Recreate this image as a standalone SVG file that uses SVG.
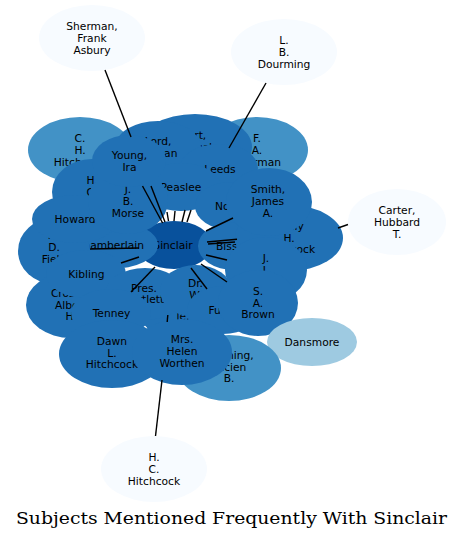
<svg xmlns="http://www.w3.org/2000/svg" width="464" height="538" viewBox="0 0 464 538">
<style>
.t{font-family:"DejaVu Sans",sans-serif;font-size:10.7px;text-anchor:middle;fill:#000}
.c1{fill:#f7fbff}.c4{fill:#4292c6}.c3{fill:#9ecae1}.c6{fill:#2171b5}.c7{fill:#08519c}
.e{stroke:#000;stroke-width:1.4;fill:none}
.title{font-family:"DejaVu Serif",serif;font-size:16px;text-anchor:middle;fill:#000}
</style>
<rect width="464" height="538" fill="#fff"/>
<g id="nodes">
<g id="n-sinclair"><ellipse class="c7" cx="174" cy="245" rx="38" ry="24"/><text class="t" x="173" y="248.5">Sinclair</text></g>
<g id="n-sherman-frank"><ellipse class="c1" cx="92" cy="38" rx="53" ry="33"/><text class="t"><tspan x="92" y="29.5">Sherman,</tspan><tspan x="92" y="41.5">Frank</tspan><tspan x="92" y="53.5">Asbury</tspan></text></g>
<g id="n-dourming"><ellipse class="c1" cx="284" cy="52" rx="53" ry="33"/><text class="t"><tspan x="284" y="43.5">L.</tspan><tspan x="284" y="55.5">B.</tspan><tspan x="284" y="67.5">Dourming</tspan></text></g>
<g id="n-carter"><ellipse class="c1" cx="397" cy="222" rx="49" ry="33"/><text class="t"><tspan x="397" y="213.5">Carter,</tspan><tspan x="397" y="225.5">Hubbard</tspan><tspan x="397" y="237.5">T.</tspan></text></g>
<g id="n-hc-hitchcock"><ellipse class="c1" cx="154" cy="469" rx="53" ry="33"/><text class="t"><tspan x="154" y="460.5">H.</tspan><tspan x="154" y="472.5">C.</tspan><tspan x="154" y="484.5">Hitchcock</tspan></text></g>
<g id="n-ch-hitchcock"><ellipse class="c4" cx="80" cy="150" rx="52" ry="33"/><text class="t"><tspan x="80" y="142">C.</tspan><tspan x="80" y="154">H.</tspan><tspan x="80" y="165.5">Hitchcock</tspan></text></g>
<g id="n-fa-sherman"><ellipse class="c4" cx="257" cy="150" rx="51" ry="33"/><text class="t"><tspan x="257" y="141.5">F.</tspan><tspan x="257" y="153.5">A.</tspan><tspan x="257" y="165.5">Sherman</tspan></text></g>
<g id="n-hart"><ellipse class="c6" cx="195" cy="147" rx="57" ry="33"/><text class="t"><tspan x="193" y="139">Hart,</tspan><tspan x="192" y="151">Samuel</tspan><tspan x="192" y="163">P.</tspan></text></g>
<g id="n-lord"><ellipse class="c6" cx="158" cy="147" rx="43" ry="26"/><text class="t"><tspan x="158" y="145">Lord,</tspan><tspan x="158" y="156.5">Nathan</tspan></text></g>
<g id="n-leeds"><ellipse class="c6" cx="219" cy="168" rx="39" ry="24"/><text class="t" x="220" y="173">Leeds</text></g>
<g id="n-peaslee"><ellipse class="c6" cx="181" cy="187" rx="40" ry="24"/><text class="t" x="181" y="190.7">Peaslee</text></g>
<g id="n-hc"><ellipse class="c6" cx="92" cy="192" rx="40" ry="33"/><text class="t"><tspan x="92" y="184">H.</tspan><tspan x="92" y="195.5">C.</tspan><tspan x="92" y="207.5">Bartlett</tspan></text></g>
<g id="n-chamberlain"><ellipse class="c6" cx="110" cy="245" rx="48" ry="24"/><text class="t" x="110" y="249">Chamberlain</text></g>
<g id="n-field"><ellipse class="c6" cx="54" cy="251" rx="36" ry="33"/><text class="t"><tspan x="54" y="239">M.</tspan><tspan x="54" y="251">D.</tspan><tspan x="54" y="263">Field</tspan></text></g>
<g id="n-howard"><ellipse class="c6" cx="75" cy="219" rx="43" ry="24"/><text class="t" x="75" y="223">Howard</text></g>
<g id="n-morse"><ellipse class="c6" cx="128" cy="201" rx="40" ry="33"/><text class="t"><tspan x="128" y="193">J.</tspan><tspan x="128" y="205">B.</tspan><tspan x="128" y="217">Morse</tspan></text></g>
<g id="n-young"><ellipse class="c6" cx="129" cy="161" rx="37" ry="26"/><text class="t"><tspan x="129.5" y="159">Young,</tspan><tspan x="129.5" y="171">Ira</tspan></text></g>
<g id="n-crosby"><ellipse class="c6" cx="71" cy="305" rx="45" ry="33"/><text class="t"><tspan x="71" y="297">Crosby,</tspan><tspan x="71" y="308.5">Albert</tspan><tspan x="71" y="320">H.</tspan></text></g>
<g id="n-kibling"><ellipse class="c6" cx="86" cy="274" rx="40" ry="24"/><text class="t" x="86.5" y="278">Kibling</text></g>
<g id="n-le"><ellipse class="c6" cx="180" cy="316" rx="38" ry="24"/><text class="t" x="183" y="320">le.</text></g>
<g id="n-bartlett"><ellipse class="c6" cx="145" cy="294" rx="40" ry="26"/><text class="t"><tspan x="144" y="291.7">Pres.</tspan><tspan x="144" y="302.7">Bartlett</tspan></text></g>
<g id="n-tenney"><ellipse class="c6" cx="111" cy="313" rx="40" ry="24"/><text class="t" x="111.5" y="316.7">Tenney</text></g>
<g id="n-dawn"><ellipse class="c6" cx="112" cy="354" rx="53" ry="34"/><text class="t"><tspan x="112" y="345">Dawn</tspan><tspan x="112" y="356.7">L.</tspan><tspan x="112" y="368">Hitchcock</tspan></text></g>
<g id="n-dr-w"><ellipse class="c6" cx="196" cy="291" rx="36" ry="26"/><text class="t"><tspan x="195.5" y="287">Dr.</tspan><tspan x="195.5" y="298.5">W.</tspan></text></g>
<g id="n-fuller"><ellipse class="c6" cx="223" cy="310" rx="36" ry="24"/><text class="t" x="223" y="314">Fuller</text></g>
<g id="n-noyes"><ellipse class="c6" cx="231" cy="206" rx="36" ry="24"/><text class="t" x="231.5" y="210">Noyes</text></g>
<g id="n-bissell"><ellipse class="c6" cx="234" cy="246" rx="36" ry="24"/><text class="t" x="233" y="250">Bissell</text></g>
<g id="n-hitchcock-y"><ellipse class="c6" cx="289" cy="238" rx="54" ry="33"/><text class="t"><tspan x="289" y="230">Emily</tspan><tspan x="289" y="241.7">H.</tspan><tspan x="289" y="252.7">Hitchcock</tspan></text></g>
<g id="n-smith"><ellipse class="c6" cx="269" cy="202" rx="43" ry="34"/><text class="t"><tspan x="268" y="193">Smith,</tspan><tspan x="268" y="205">James</tspan><tspan x="268" y="217">A.</tspan></text></g>
<g id="n-ji"><ellipse class="c6" cx="266" cy="270" rx="41" ry="33"/><text class="t"><tspan x="266" y="261.7">J.</tspan><tspan x="266" y="273.5">I.</tspan><tspan x="266" y="285">Parker</tspan></text></g>
<g id="n-brown"><ellipse class="c6" cx="258" cy="303" rx="40" ry="33"/><text class="t"><tspan x="258" y="295">S.</tspan><tspan x="258" y="306.7">A.</tspan><tspan x="258" y="318">Brown</tspan></text></g>
<g id="n-dansmore"><ellipse class="c3" cx="312" cy="342" rx="45" ry="24"/><text class="t" x="312" y="346">Dansmore</text></g>
<g id="n-manning"><ellipse class="c4" cx="229" cy="368" rx="52" ry="33"/><text class="t"><tspan x="229" y="359">Manning,</tspan><tspan x="229" y="370.5">Lucien</tspan><tspan x="229" y="382">B.</tspan></text></g>
<g id="n-worthen"><ellipse class="c6" cx="182" cy="352" rx="50" ry="33"/><text class="t"><tspan x="182" y="343">Mrs.</tspan><tspan x="182" y="355">Helen</tspan><tspan x="182" y="367">Worthen</tspan></text></g>
</g>
<g id="connectors" class="e">
<line x1="105" y1="70" x2="131" y2="137"/>
<line x1="151" y1="186" x2="165" y2="222"/>
<line x1="142.5" y1="186" x2="162.6" y2="223"/>
<line x1="266" y1="83" x2="229" y2="148"/>
<line x1="191" y1="210" x2="187" y2="222"/>
<line x1="185" y1="210" x2="182" y2="222"/>
<line x1="175" y1="211" x2="174" y2="221"/>
<line x1="167" y1="212" x2="168.5" y2="221"/>
<line x1="338" y1="228" x2="348" y2="224.5"/>
<line x1="207" y1="242" x2="237" y2="239.3"/>
<line x1="208" y1="244" x2="235" y2="242"/>
<line x1="206" y1="231" x2="233" y2="218"/>
<line x1="206" y1="255" x2="227" y2="260"/>
<line x1="201" y1="264" x2="227" y2="282"/>
<line x1="191" y1="268" x2="207" y2="289"/>
<line x1="131" y1="292" x2="155" y2="267"/>
<line x1="121" y1="263" x2="139" y2="257"/>
<line x1="90" y1="249" x2="139" y2="248"/>
<line x1="167.8" y1="315" x2="167.2" y2="322"/>
<line x1="162" y1="380" x2="155.5" y2="436"/>
</g>
<text class="title" x="231.5" y="524" textLength="431" lengthAdjust="spacingAndGlyphs">Subjects Mentioned Frequently With Sinclair</text>
</svg>
